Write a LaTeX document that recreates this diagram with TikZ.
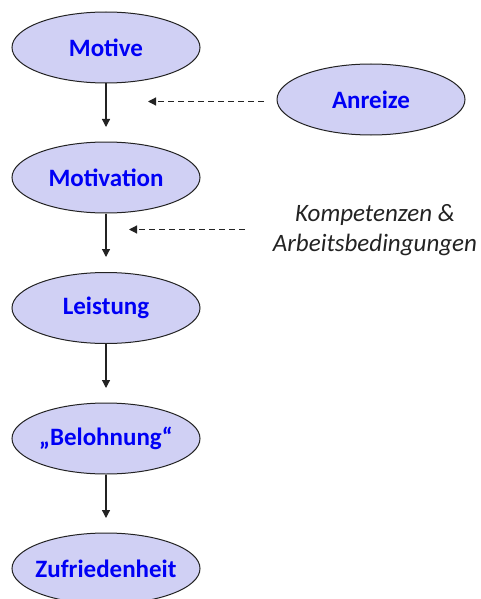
\documentclass[tikz,border=0pt]{standalone}
\usepackage{fontspec}
\setmainfont{Carlito}
\usetikzlibrary{shapes.geometric,arrows.meta}
\definecolor{ellfill}{RGB}{208,208,244}
\definecolor{txtblue}{RGB}{0,0,245}
\definecolor{edge}{RGB}{35,35,35}
\begin{document}
\begin{tikzpicture}[x=1pt,y=-1pt,
  stage/.style={ellipse,draw=edge,line width=1pt,fill=ellfill,minimum width=188pt,minimum height=71pt,inner sep=0pt,font=\fontsize{25}{29}\selectfont\bfseries,text=txtblue},
  flow/.style={draw=edge,line width=1.2pt,-{Triangle[length=8pt,width=8pt]}},
  infl/.style={draw=edge,line width=1.2pt,dash pattern=on 6pt off 4pt,-{Triangle[length=8pt,width=8pt]}},
  note/.style={font=\fontsize{25}{30}\selectfont\itshape,text=edge,align=center}]
\useasboundingbox (0,0) rectangle (481,599);
\node[stage] (motive) at (106,47.5) {\makebox[0pt]{Motive}};
\node[stage] (anreize) at (371,99.5) {\makebox[0pt]{Anreize}};
\node[stage] (motivation) at (106,177.5) {\makebox[0pt]{Motivation}};
\node[stage] (leistung) at (106,308) {\makebox[0pt]{Leistung}};
\node[stage] (belohnung) at (106,438.5) {\makebox[0pt]{„Belohnung“}};
\node[stage] (zufr) at (106,568.5) {\makebox[0pt]{Zufriedenheit}};
\node[note] (komp) at (375,230.5) {Kompetenzen \&\\Arbeitsbedingungen};
\coordinate (a1) at (106,127);
\coordinate (a2) at (106,257);
\coordinate (a3) at (106,388);
\coordinate (a4) at (106,518);
\coordinate (d1s) at (264,101.5);
\coordinate (d1e) at (148,101.5);
\coordinate (d2s) at (245,229.5);
\coordinate (d2e) at (129,229.5);
\draw[flow] (motive) -- (a1);
\draw[flow] (motivation) -- (a2);
\draw[flow] (leistung) -- (a3);
\draw[flow] (belohnung) -- (a4);
\draw[infl] (d1s) -- (d1e);
\draw[infl] (d2s) -- (d2e);
\end{tikzpicture}
\end{document}
